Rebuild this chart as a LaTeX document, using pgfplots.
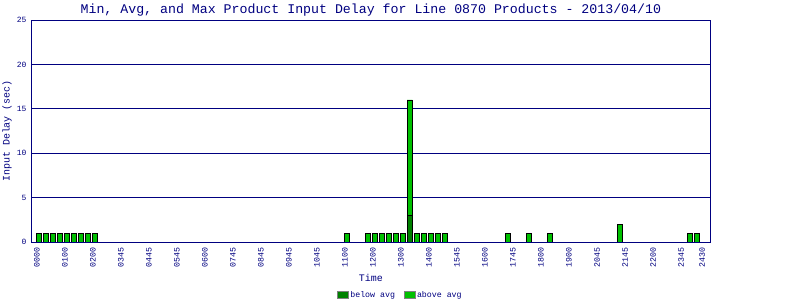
\documentclass[border=0pt]{standalone}
\usepackage{fontspec}
\setmainfont{Liberation Mono}
\usepackage{pgfplots}
\pgfplotsset{compat=1.18}
\definecolor{navy}{HTML}{000080}
\definecolor{dkgreen}{HTML}{008000}
\definecolor{ltgreen}{HTML}{00C000}
\pgfplotsset{
  myleg/.style={legend image code/.code={\filldraw[##1, draw=gray, line width=1bp] (0bp,-3.5bp) rectangle (11bp,3.5bp);}}
}
\begin{document}
\begin{tikzpicture}
\useasboundingbox (0,0) rectangle (800bp,300bp);
\begin{axis}[
  at={(31.7bp,58bp)}, anchor=south west,
  scale only axis, width=678.3bp, height=222bp,
  xmin=-1, xmax=95.9, ymin=0, ymax=25,
  ytick={0,5,10,15,20,25},
  ymajorgrids, grid style={navy, line width=0.8bp},
  axis line style={navy, line width=0.8bp},
  major tick length=0pt,
  /pgf/number format/assume math mode=true,
  xtick={-0.24,3.76,7.76,11.76,15.76,19.76,23.76,27.76,31.76,35.76,39.76,43.76,47.76,51.76,55.76,59.76,63.76,67.76,71.76,75.76,79.76,83.76,87.76,91.76,94.76},
  xticklabels={0000,0100,0200,0345,0445,0545,0600,0745,0845,0945,1045,1100,1200,1300,1400,1545,1600,1745,1800,1900,2045,2145,2200,2345,2430},
  xticklabel shift=5bp,
  xticklabel style={rotate=90, anchor=east, font=\fontsize{8.3}{8.3}\selectfont, text=navy, inner sep=0.5bp},
  yticklabel style={font=\fontsize{8}{8}\selectfont, text=navy, inner sep=1bp, xshift=-4bp},
  every axis title shift/.style={},
  title={Min, Avg, and Max Product Input Delay for Line 0870 Products - 2013/04/10},
  title style={at={(0.5,1.0302)}, anchor=base, yshift=-6pt, font=\fontsize{13.3}{14}\selectfont, text=navy, inner sep=0pt},
  xlabel={Time},
  xlabel style={at={(0.5,-0.1788)}, anchor=base, font=\fontsize{10}{10}\selectfont, text=navy, inner sep=0pt},
  ylabel={Input Delay (sec)},
  ylabel style={at={(-0.0324,0.5)}, anchor=base, font=\fontsize{10}{10}\selectfont, text=navy, inner sep=0pt},
  ybar stacked, bar width=0.76,
  legend columns=2,
  legend style={draw=none, fill=none, at={(0.543,-0.2387)}, anchor=center,
    font=\fontsize{8.3}{8.3}\selectfont, text=navy, inner sep=0pt,
    /tikz/every even column/.append style={column sep=7bp},
    nodes={inner sep=1.5bp}},
]
\addplot+[ybar, fill=dkgreen, draw=black, line width=0.8bp, myleg] coordinates {
(0,0)(1,0)(2,0)(3,0)(4,0)(5,0)(6,0)(7,0)(8,0)
(44,0)(47,0)(48,0)(49,0)(50,0)(51,0)(52,0)(53,3)(54,0)(55,0)(56,0)(57,0)(58,0)
(67,0)(70,0)(73,0)(83,0)(93,0)(94,0)};
\addlegendentry{below avg}
\addplot+[ybar, fill=ltgreen, draw=black, line width=0.8bp, myleg] coordinates {
(0,1)(1,1)(2,1)(3,1)(4,1)(5,1)(6,1)(7,1)(8,1)
(44,1)(47,1)(48,1)(49,1)(50,1)(51,1)(52,1)(53,13)(54,1)(55,1)(56,1)(57,1)(58,1)
(67,1)(70,1)(73,1)(83,2)(93,1)(94,1)};
\addlegendentry{above avg}
\end{axis}
\end{tikzpicture}
\end{document}
